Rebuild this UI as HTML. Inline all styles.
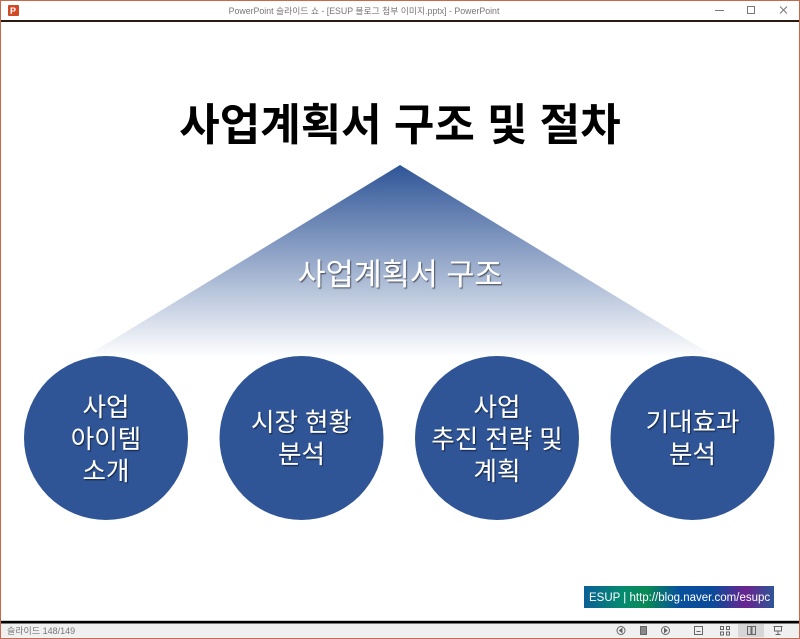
<!DOCTYPE html>
<html lang="ko">
<head>
<meta charset="utf-8">
<title>사업계획서 구조 및 절차</title>
<style>
html,body{margin:0;padding:0;background:#fff}
body{width:800px;height:639px;overflow:hidden;position:relative}
svg{display:block;position:absolute;left:0;top:0}
text{font-family:"Liberation Sans","Noto Sans CJK KR",sans-serif}
.c{font-size:25.5px;fill:#fff;text-anchor:middle;filter:url(#sh)}
</style>
</head>
<body>
<svg width="800" height="639" viewBox="0 0 800 639" xmlns="http://www.w3.org/2000/svg">
<defs>
<linearGradient id="tri" x1="0" y1="0" x2="0" y2="1">
<stop offset="0" stop-color="#2f5597"/>
<stop offset="1" stop-color="#2f5597" stop-opacity="0"/>
</linearGradient>
<linearGradient id="badge" x1="0" y1="0" x2="1" y2="0">
<stop offset="0" stop-color="#0a5f96"/>
<stop offset=".2" stop-color="#058a70"/>
<stop offset=".33" stop-color="#0a8a55"/>
<stop offset=".5" stop-color="#07509c"/>
<stop offset=".68" stop-color="#0b4a9a"/>
<stop offset=".85" stop-color="#6a2490"/>
<stop offset="1" stop-color="#2f5597"/>
</linearGradient>
<filter id="sh" x="-10%" y="-10%" width="120%" height="130%">
<feDropShadow dx="1" dy="1.2" stdDeviation=".6" flood-color="#000" flood-opacity=".55"/>
</filter>
</defs>

<rect width="800" height="639" fill="#fff"/>

<!-- title bar -->
<rect x="8" y="5" width="11" height="11" rx="1" fill="#d24726"/>
<text x="10" y="14" font-size="9" font-weight="bold" fill="#fff">P</text>
<text x="364" y="14" text-anchor="middle" font-size="8.8" fill="#777">PowerPoint 슬라이드 쇼 - [ESUP 블로그 첨부 이미지.pptx] - PowerPoint</text>
<line x1="715" y1="10.5" x2="724" y2="10.5" stroke="#777"/>
<rect x="747.5" y="6.5" width="7" height="7" fill="none" stroke="#777"/>
<path d="M780 6.5l7 7M787 6.5l-7 7" stroke="#777" fill="none"/>
<rect x="1" y="20" width="798" height="2" fill="#2a1a14"/>

<!-- slide -->
<text x="400" y="140" text-anchor="middle" font-size="44" font-weight="bold" fill="#000">사업계획서 구조 및 절차</text>
<polygon points="400,165 83,358 717,358" fill="url(#tri)"/>
<text x="400" y="285" text-anchor="middle" font-size="30.5" fill="#fff" filter="url(#sh)">사업계획서 구조</text>

<circle cx="106" cy="438" r="82" fill="#2f5597"/>
<circle cx="301.5" cy="438" r="82" fill="#2f5597"/>
<circle cx="497" cy="438" r="82" fill="#2f5597"/>
<circle cx="692.5" cy="438" r="82" fill="#2f5597"/>

<text class="c" x="106" y="416">사업</text>
<text class="c" x="106" y="448">아이템</text>
<text class="c" x="106" y="480">소개</text>
<text class="c" x="301.5" y="431">시장 현황</text>
<text class="c" x="301.5" y="463">분석</text>
<text class="c" x="497" y="416">사업</text>
<text class="c" x="497" y="448">추진 전략 및</text>
<text class="c" x="497" y="480">계획</text>
<text class="c" x="692.5" y="431">기대효과</text>
<text class="c" x="692.5" y="463">분석</text>

<!-- badge -->
<rect x="584" y="586" width="190" height="22" fill="url(#badge)"/>
<text x="589" y="601" font-size="11.5" fill="#fff">ESUP | http://blog.naver.com/esupc</text>

<!-- status bar -->
<rect x="0" y="620" width="800" height="1.5" fill="#ccc"/>
<rect x="1" y="621" width="798" height="2.5" fill="#000"/>
<rect x="1" y="623.5" width="798" height="14" fill="#f0f0f0"/>
<text x="7" y="634" font-size="9" fill="#777">슬라이드 148/149</text>
<g fill="none" stroke="#666" stroke-width="1">
<circle cx="621" cy="630.5" r="4"/>
<path d="M622 628.5l-2.5 2 2.5 2z" fill="#666"/>
<rect x="640.5" y="626.5" width="6" height="8" fill="#888"/>
<circle cx="665.5" cy="630.5" r="4"/>
<path d="M664.5 628.5l2.5 2-2.5 2z" fill="#666"/>
<rect x="694.5" y="626.5" width="8" height="8"/>
<path d="M696.5 631.5h4"/>
<rect x="720.5" y="626.5" width="3" height="3"/>
<rect x="726.5" y="626.5" width="3" height="3"/>
<rect x="720.5" y="632" width="3" height="3"/>
<rect x="726.5" y="632" width="3" height="3"/>
</g>
<rect x="738" y="624" width="26" height="13.5" fill="#d6d6d6"/>
<g fill="none" stroke="#666" stroke-width="1">
<rect x="747.5" y="626.5" width="3.5" height="8"/>
<rect x="752" y="626.5" width="3.5" height="8"/>
<path d="M773.5 626.5h9M774.5 626.5v4.5h7v-4.5M778 631v3M775.5 634.5h5"/>
</g>

<!-- window border -->
<rect x="0.5" y="0.5" width="799" height="638" fill="none" stroke="#c8694e"/>
</svg>
</body>
</html>
